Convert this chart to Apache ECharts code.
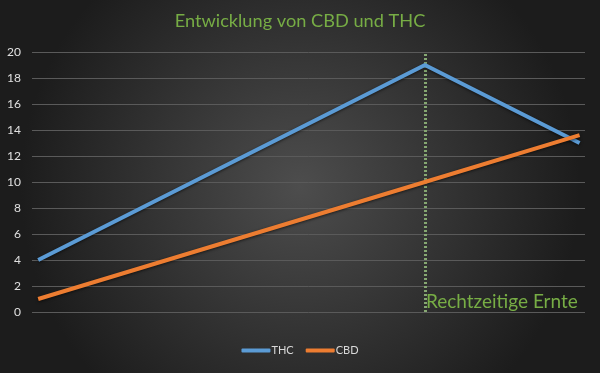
<!DOCTYPE html>
<html><head><meta charset="utf-8">
<script src="https://cdn.jsdelivr.net/npm/echarts@6/dist/echarts.min.js"></script>
<style>html,body{margin:0;padding:0;background:#2a2a2a}#c{width:600px;height:373px}</style>
</head><body><div id="c"></div>
<script>
const titleText = 'Entwicklung von CBD und THC';
const xPositions = [0, 5, 7];
const thcValues = [4, 19, 13];
const cbdValues = [1, 10, 13.6];
const seriesNames = ['THC', 'CBD'];
const harvestX = 5;
const harvestLabel = 'Rechtzeitige Ernte';
const yTicks = [0, 2, 4, 6, 8, 10, 12, 14, 16, 18, 20];

const chart = echarts.init(document.getElementById('c'), null, {renderer: 'canvas'});
const font = 'Lato, "Open Sans", sans-serif';
const green = '#77ad45';
chart.setOption({
  animation: false,
  backgroundColor: {
    type: 'radial', x: 0.5, y: 0.5, r: 0.75,
    colorStops: [{offset: 0, color: '#4d4d4d'}, {offset: 1, color: '#1c1c1c'}]
  },
  title: {
    text: titleText, left: 'center', top: 7,
    textStyle: {color: green, fontFamily: font, fontSize: 18.2, fontWeight: 'normal'}
  },
  legend: {
    bottom: 12, left: 'center', itemWidth: 29, itemHeight: 4, itemGap: 12,
    icon: 'roundRect',
    textStyle: {color: '#d9d9d9', fontFamily: font, fontSize: 11, padding: [0, 0, 0, -4]},
    data: seriesNames
  },
  grid: {left: 32, right: 15, top: 52, bottom: 61, containLabel: false},
  xAxis: {
    type: 'value', min: -0.08, max: 7.07,
    show: false, splitLine: {show: false}
  },
  yAxis: {
    type: 'value', min: yTicks[0], max: yTicks[yTicks.length - 1], interval: 2,
    axisLine: {show: false}, axisTick: {show: false},
    axisLabel: {color: '#e0e0e0', fontFamily: font, fontSize: 12, margin: 11},
    splitLine: {lineStyle: {color: '#5a5a5a', width: 1}}
  },
  series: [
    {
      name: seriesNames[0], type: 'line', showSymbol: false, symbol: 'none',
      data: xPositions.map((x, i) => [x, thcValues[i]]),
      itemStyle: {color: '#5b9bd5'},
      lineStyle: {color: '#5b9bd5', width: 4, shadowColor: 'rgba(0,0,0,0.6)', shadowBlur: 3, shadowOffsetY: 1},
      z: 3
    },
    {
      name: seriesNames[1], type: 'line', showSymbol: false, symbol: 'none',
      data: xPositions.map((x, i) => [x, cbdValues[i]]),
      itemStyle: {color: '#ed7d31'},
      lineStyle: {color: '#ed7d31', width: 4, shadowColor: 'rgba(0,0,0,0.6)', shadowBlur: 3, shadowOffsetY: 1},
      z: 4,
      markLine: {
        silent: true, symbol: 'none', z: 2,
        lineStyle: {color: '#86a872', type: [2, 2], width: 3},
        label: {show: false},
        data: [{xAxis: harvestX}]
      },
      markPoint: {
        silent: true, symbol: 'circle', symbolSize: 0,
        label: {
          show: true, position: 'right', distance: 1,
          formatter: harvestLabel,
          color: green, fontFamily: font, fontSize: 19
        },
        data: [{coord: [harvestX, 0.8]}]
      }
    }
  ]
});
</script></body></html>
